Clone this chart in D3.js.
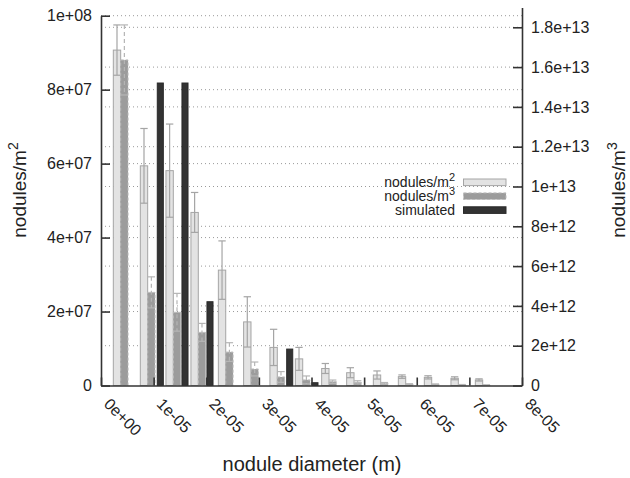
<!DOCTYPE html>
<html>
<head>
<meta charset="utf-8">
<script src="https://cdn.jsdelivr.net/npm/d3@7"></script>
<style>
  body { margin: 0; background: #fff; }
  text { font-family: "Liberation Sans", Arial, sans-serif; fill: #222; }
  .axis path, .axis line { stroke: #333; stroke-width: 1.6; }
  .grid line { stroke: #999; stroke-width: 1; stroke-dasharray: 1 3; }
</style>
</head>
<body>
<div id="container"></div>
<script>
// measured bins (bin centre, m)
var diameters = [3.74e-6, 8.87e-6, 1.374e-5, 1.849e-5, 2.370e-5, 2.850e-5, 3.350e-5, 3.833e-5,
                 4.333e-5, 4.808e-5, 5.315e-5, 5.790e-5, 6.284e-5, 6.790e-5, 7.253e-5];
var perArea = [9.07e7, 5.94e7, 5.81e7, 4.68e7, 3.12e7, 1.72e7, 1.03e7, 7.2e6,
               4.6e6, 3.46e6, 2.84e6, 2.4e6, 2.2e6, 1.95e6, 1.5e6];
var perAreaErr = [6.8e6, 1.01e7, 1.26e7, 5.4e6, 7.9e6, 6.8e6, 4.9e6, 3.1e6,
                  1.35e6, 1.35e6, 1.1e6, 0.46e6, 0.43e6, 0.4e6, 0.3e6];
var perVolume = [1.636e13, 4.68e12, 3.68e12, 2.67e12, 1.68e12, 8.3e11, 4.3e11, 2.8e11,
                 1.9e11, 1.6e11, 1.0e11, 0.6e11, 0.5e11, 0.3e11, 0.2e11];
var perVolumeErr = [1.76e12, 7.8e11, 9.5e11, 4.5e11, 4.7e11, 3.5e11, 2.7e11, 2.0e11,
                    0.85e11, 0.8e11, 0.5e11, 0.3e11, 0.3e11, 0.2e11, 0.1e11];
// simulated
var simDiameters = [1.127e-5, 1.596e-5, 2.071e-5, 3.586e-5, 4.066e-5];
var simValues = [1.52e13, 1.52e13, 4.21e12, 1.83e12, 1.4e11];

var xTicks = [0, 1e-5, 2e-5, 3e-5, 4e-5, 5e-5, 6e-5, 7e-5, 8e-5];
var yLeftTicks = [0, 2e7, 4e7, 6e7, 8e7, 1e8];
var yRightTicks = [0, 2e12, 4e12, 6e12, 8e12, 1e13, 1.2e13, 1.4e13, 1.6e13, 1.8e13];
var legendLabels = [["nodules/m", "2"], ["nodules/m", "3"], ["simulated", ""]];

var width = 630, height = 478;
var plotLeft = 101, plotRight = 522, plotTop = 15.7, plotBottom = 385.5;

var svg = d3.select('#container').append('svg')
    .attr('width', width).attr('height', height);

var x = d3.scaleLinear().domain([0, 8e-5]).range([plotLeft, plotRight]);
var yL = d3.scaleLinear().domain([0, 1e8]).range([plotBottom, plotTop]);
var yR = d3.scaleLinear().domain([0, 1.9e13])
    .range([plotBottom, plotBottom - 1.9e13 * (plotBottom - 27.3) / 1.8e13]);

function expo(v, digits) {
    var s = digits == null ? v.toExponential() : v.toExponential(digits);
    return s.replace(/e([+-])(\d)$/, 'e$10$2');
}
function gfmt(v) { return v === 0 ? '0' : expo(v); }

// grid
var grid = svg.append('g').attr('class', 'grid');
grid.selectAll('.gl').data(yLeftTicks.filter(function (d) { return d > 0; }))
    .enter().append('line')
    .attr('x1', plotLeft).attr('x2', plotRight)
    .attr('y1', function (d) { return yL(d); }).attr('y2', function (d) { return yL(d); });
grid.selectAll('.gr').data(yRightTicks.filter(function (d) { return d > 0; }))
    .enter().append('line')
    .attr('x1', plotLeft).attr('x2', plotRight)
    .attr('y1', function (d) { return yR(d); }).attr('y2', function (d) { return yR(d); });

var bw = x(1.4e-6) - x(0);
var sw = x(1.15e-6) - x(0);
var cap = bw / 2;

// nodules/m2 bars
var g1 = svg.append('g');
g1.selectAll('rect').data(diameters).enter().append('rect')
    .attr('x', function (d) { return x(d) - bw; })
    .attr('width', bw)
    .attr('y', function (d, i) { return yL(perArea[i]); })
    .attr('height', function (d, i) { return plotBottom - yL(perArea[i]); })
    .attr('fill', '#e3e3e3').attr('stroke', '#a5a5a5').attr('stroke-width', 1);
var e1 = g1.selectAll('.err').data(diameters).enter().append('g')
    .attr('stroke', '#a5a5a5').attr('stroke-width', 1.2);
e1.append('line')
    .attr('x1', function (d) { return x(d) - bw / 2; }).attr('x2', function (d) { return x(d) - bw / 2; })
    .attr('y1', function (d, i) { return yL(perArea[i] + perAreaErr[i]); })
    .attr('y2', function (d, i) { return yL(perArea[i] - perAreaErr[i]); });
e1.append('line')
    .attr('x1', function (d) { return x(d) - bw / 2 - cap; }).attr('x2', function (d) { return x(d) - bw / 2 + cap; })
    .attr('y1', function (d, i) { return yL(perArea[i] + perAreaErr[i]); })
    .attr('y2', function (d, i) { return yL(perArea[i] + perAreaErr[i]); });
e1.append('line')
    .attr('x1', function (d) { return x(d) - bw / 2 - cap; }).attr('x2', function (d) { return x(d) - bw / 2 + cap; })
    .attr('y1', function (d, i) { return yL(perArea[i] - perAreaErr[i]); })
    .attr('y2', function (d, i) { return yL(perArea[i] - perAreaErr[i]); });

// nodules/m3 bars
var g2 = svg.append('g');
g2.selectAll('rect').data(diameters).enter().append('rect')
    .attr('x', function (d) { return x(d); })
    .attr('width', bw)
    .attr('y', function (d, i) { return yR(perVolume[i]); })
    .attr('height', function (d, i) { return plotBottom - yR(perVolume[i]); })
    .attr('fill', '#9c9c9c').attr('stroke', '#bdbdbd').attr('stroke-width', 1)
    .attr('stroke-dasharray', '3 2');
var e2 = g2.selectAll('.err').data(diameters).enter().append('g')
    .attr('stroke', '#b5b5b5').attr('stroke-width', 1.2);
e2.append('line')
    .attr('stroke-dasharray', '4 3')
    .attr('x1', function (d) { return x(d) + bw / 2; }).attr('x2', function (d) { return x(d) + bw / 2; })
    .attr('y1', function (d, i) { return yR(perVolume[i] + perVolumeErr[i]); })
    .attr('y2', function (d, i) { return yR(perVolume[i] - perVolumeErr[i]); });
e2.append('line')
    .attr('x1', function (d) { return x(d) + bw / 2 - cap; }).attr('x2', function (d) { return x(d) + bw / 2 + cap; })
    .attr('y1', function (d, i) { return yR(perVolume[i] + perVolumeErr[i]); })
    .attr('y2', function (d, i) { return yR(perVolume[i] + perVolumeErr[i]); });
e2.append('line')
    .attr('x1', function (d) { return x(d) + bw / 2 - cap; }).attr('x2', function (d) { return x(d) + bw / 2 + cap; })
    .attr('y1', function (d, i) { return yR(perVolume[i] - perVolumeErr[i]); })
    .attr('y2', function (d, i) { return yR(perVolume[i] - perVolumeErr[i]); });

// simulated
svg.append('g').selectAll('rect').data(simDiameters).enter().append('rect')
    .attr('x', function (d) { return x(d) - sw / 2; })
    .attr('width', sw)
    .attr('y', function (d, i) { return yR(simValues[i]); })
    .attr('height', function (d, i) { return plotBottom - yR(simValues[i]); })
    .attr('fill', '#333').attr('stroke', '#2a2a2a').attr('stroke-width', 1);

// axes
svg.append('g').attr('class', 'axis')
    .attr('transform', 'translate(' + plotLeft + ',0)')
    .call(d3.axisLeft(yL).tickValues(yLeftTicks).tickFormat(gfmt).tickSizeInner(-9).tickSizeOuter(0).tickPadding(9));
svg.append('g').attr('class', 'axis')
    .attr('transform', 'translate(' + plotRight + ',0)')
    .call(d3.axisRight(yR).tickValues(yRightTicks).tickFormat(gfmt).tickSizeInner(-9).tickSizeOuter(0).tickPadding(9));
svg.append('g').attr('class', 'axis')
    .attr('transform', 'translate(0,' + plotBottom + ')')
    .call(d3.axisBottom(x).tickValues(xTicks).tickFormat('').tickSizeInner(-8).tickSizeOuter(0));
svg.selectAll('.axis text').style('font-size', '16px').style('font-family', '"Liberation Sans", Arial, sans-serif');

svg.append('g').selectAll('text').data(xTicks).enter().append('text')
    .attr('transform', function (d) { return 'translate(' + (x(d) + 2) + ',' + 405 + ') rotate(45)'; })
    .style('font-size', '16px')
    .text(function (d) { return expo(d, 0); });

// axis titles
var tL = svg.append('text')
    .attr('transform', 'translate(26,190) rotate(-90)')
    .attr('text-anchor', 'middle').style('font-size', '19px');
tL.append('tspan').text('nodules/m');
tL.append('tspan').attr('dy', '-0.55em').style('font-size', '14px').text('2');

var tR = svg.append('text')
    .attr('transform', 'translate(625,190) rotate(-90)')
    .attr('text-anchor', 'middle').style('font-size', '19px');
tR.append('tspan').text('nodules/m');
tR.append('tspan').attr('dy', '-0.55em').style('font-size', '14px').text('3');

svg.append('text')
    .attr('x', 312).attr('y', 471)
    .attr('text-anchor', 'middle').style('font-size', '20px')
    .text('nodule diameter (m)');

// legend
var fills = ['#e3e3e3', '#9c9c9c', '#333'];
var strokes = ['#a5a5a5', '#bdbdbd', '#2a2a2a'];
var leg = svg.append('g').selectAll('g').data(legendLabels).enter().append('g')
    .attr('transform', function (d, i) { return 'translate(0,' + (182.3 + i * 13.9) + ')'; });
leg.append('rect')
    .attr('x', 463.5).attr('y', -3.3).attr('width', 42.5).attr('height', 6.6)
    .attr('fill', function (d, i) { return fills[i]; })
    .attr('stroke', function (d, i) { return strokes[i]; })
    .attr('stroke-dasharray', function (d, i) { return i === 1 ? '3 2' : null; });
var lt = leg.append('text')
    .attr('x', 455).attr('y', 5)
    .attr('text-anchor', 'end').style('font-size', '14px');
lt.append('tspan').text(function (d) { return d[0]; });
lt.append('tspan').attr('dy', '-0.55em').style('font-size', '11px').text(function (d) { return d[1]; });
</script>
</body>
</html>
